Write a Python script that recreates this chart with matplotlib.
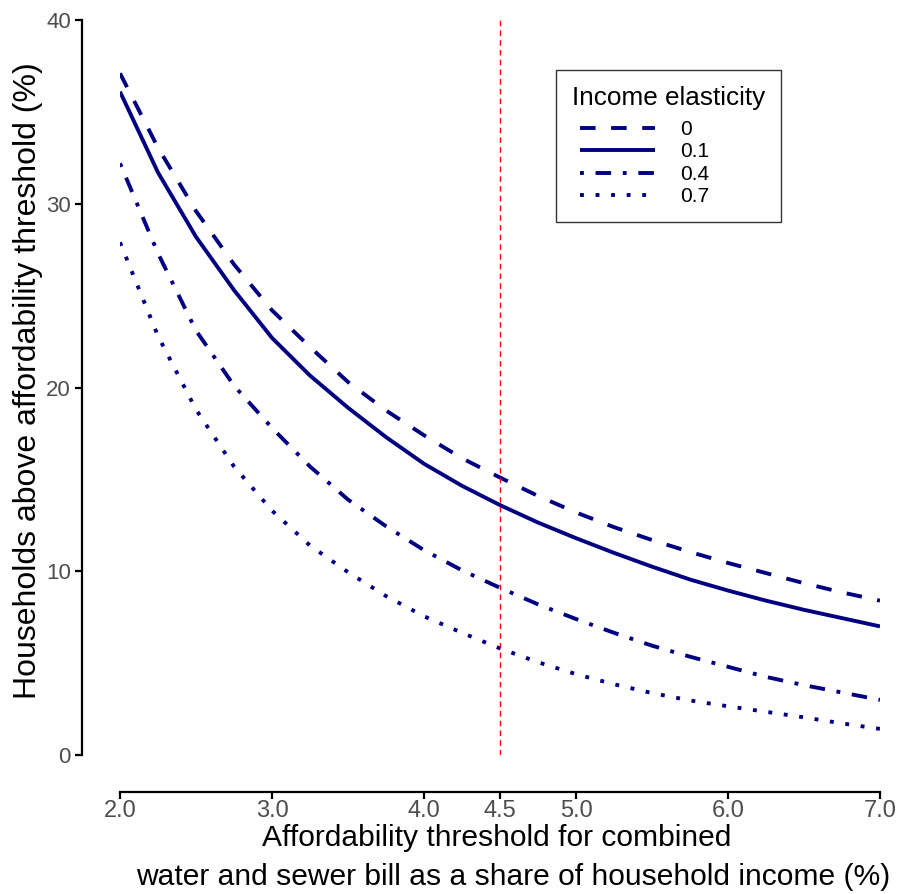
import matplotlib
matplotlib.use("Agg")
import matplotlib.pyplot as plt
from matplotlib.legend_handler import HandlerLine2D

# ---- data ----
threshold = [2.0, 2.25, 2.5, 2.75, 3.0, 3.25, 3.5, 3.75, 4.0, 4.25, 4.5,
             4.75, 5.0, 5.25, 5.5, 5.75, 6.0, 6.25, 6.5, 6.75, 7.0]
elasticity_labels = ["0", "0.1", "0.4", "0.7"]
share_e0 = [37.1, 33.05, 29.6, 26.7, 24.2, 22.2, 20.3, 18.75, 17.4, 16.15, 15.1,
            14.1, 13.2, 12.4, 11.7, 11.05, 10.45, 9.9, 9.35, 8.85, 8.4]
share_e01 = [36.1, 31.7, 28.2, 25.3, 22.7, 20.65, 18.9, 17.3, 15.85, 14.65, 13.6,
             12.65, 11.8, 11.0, 10.25, 9.55, 8.95, 8.4, 7.9, 7.45, 7.0]
share_e04 = [32.2, 27.3, 23.1, 20.1, 17.8, 15.7, 13.9, 12.45, 11.15, 10.05, 9.1,
             8.2, 7.4, 6.65, 5.95, 5.35, 4.8, 4.25, 3.8, 3.4, 3.0]
share_e07 = [27.9, 22.8, 18.8, 15.7, 13.3, 11.4, 9.95, 8.65, 7.55, 6.65, 5.8,
             5.05, 4.4, 3.85, 3.37, 2.97, 2.65, 2.35, 2.05, 1.72, 1.42]
xticks = [2.0, 3.0, 4.0, 4.5, 5.0, 6.0, 7.0]
yticks = [0, 10, 20, 30, 40]
ref_threshold = 4.5
xlabel_lines = ["Affordability threshold for combined",
                "water and sewer bill as a share of household income (%)"]

W, H = 902, 894
fig = plt.figure(figsize=(W / 100, H / 100), dpi=100)
ax = fig.add_axes([120 / W, (H - 755) / H, 760 / W, 735 / H])

navy = "#000080"
lw = 2.8
styles = [(0, (4, 4)), "solid", (0, (1, 3, 4, 3)), (0, (1, 3))]
series = [share_e0, share_e01, share_e04, share_e07]
handles = []
for vals, ls, lab in zip(series, styles, elasticity_labels):
    ln, = ax.plot(threshold, vals, color=navy, lw=lw, linestyle=ls,
                  dash_capstyle="butt", solid_capstyle="butt",
                  solid_joinstyle="round", dash_joinstyle="round", label=lab)
    handles.append(ln)

ax.plot([ref_threshold, ref_threshold], [0, 40], color="red", lw=1.0,
        linestyle=(0, (4, 3)))

ax.set_xlim(2, 7)
ax.set_ylim(0, 40)

for s in ["top", "right"]:
    ax.spines[s].set_visible(False)
ax.spines["left"].set_position(("outward", 38 * 0.72))
ax.spines["bottom"].set_position(("outward", 37 * 0.72))
ax.spines["left"].set_bounds(0, 40)
ax.spines["bottom"].set_bounds(2, 7)
for s in ["left", "bottom"]:
    ax.spines[s].set_linewidth(1.6)

fam = "Liberation Sans"
ax.set_xticks(xticks)
ax.set_xticklabels([f"{t:.1f}" for t in xticks], fontfamily=fam, fontsize=17, color="#4D4D4D")
ax.set_yticks(yticks)
ax.set_yticklabels([str(t) for t in yticks], fontfamily=fam, fontsize=16, color="#4D4D4D")
ax.tick_params(axis="both", length=5, width=1.6, color="black")
ax.tick_params(axis="x", pad=0.5)
ax.tick_params(axis="y", pad=3)

ax.set_ylabel("Households above affordability threshold (%)", fontfamily=fam,
              fontsize=23)
ax.yaxis.set_label_coords((43 - 120) / 760, 0.5095)

fig.text(497 / W, 1 - 838 / H, xlabel_lines[0], fontfamily=fam, fontsize=21.6,
         ha="center", va="center")
fig.text(513 / W, 1 - 877 / H, xlabel_lines[1], fontfamily=fam, fontsize=21.6,
         ha="center", va="center")


class OffsetLine(HandlerLine2D):
    def create_artists(self, legend, orig_handle, xdescent, ydescent, width,
                       height, fontsize, trans):
        off = 5.8
        return super().create_artists(legend, orig_handle, xdescent - off, ydescent,
                                      width - off, height, fontsize, trans)


leg = ax.legend(handles=handles, title="Income elasticity", loc="upper left",
                bbox_to_anchor=((556 - 120) / 760, (755 - 70) / 735),
                frameon=True, fancybox=False, edgecolor="black",
                prop={"family": fam, "size": 15},
                title_fontproperties={"family": fam, "size": 18.8},
                handlelength=4.0, handletextpad=1.2, labelspacing=0.17,
                borderpad=0.75, borderaxespad=0,
                handler_map={h: OffsetLine() for h in handles})
leg.get_frame().set_linewidth(1.0)
leg._legend_box.align = "left"
leg._legend_box.sep = 0.17 * 15 + 4.8

fig.savefig("out.png", dpi=100)
